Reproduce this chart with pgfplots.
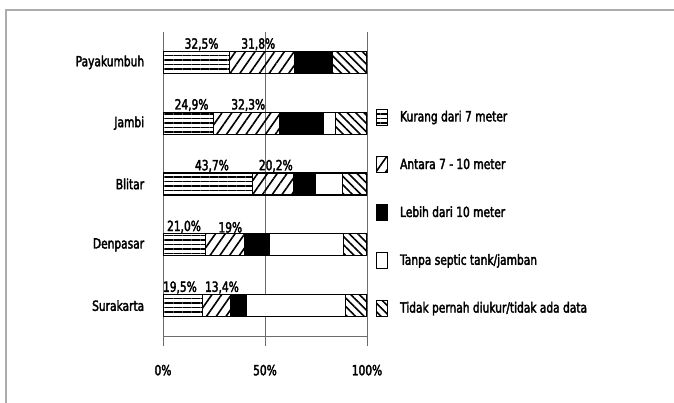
\documentclass[border=0pt]{standalone}
\usepackage{pgfplots}
\pgfplotsset{compat=1.18}
\usepackage{fontspec}
\setmainfont{DejaVu Sans}[FakeStretch=0.76, FakeBold=2.5]
\usetikzlibrary{patterns.meta}

\pgfplotsset{
  legbox/.style={legend image code/.code={
    \draw[##1,line width=0.8pt] (0pt,-8pt) rectangle (11pt,8pt);}},
}

\begin{document}
\fontsize{14}{16}\selectfont
\begin{tikzpicture}[font=\fontsize{14}{16}\selectfont]
\useasboundingbox (0pt,0pt) rectangle (674pt,402pt);
\draw[gray!65, line width=1.8pt] (6pt,-10pt) -- (6pt,392pt) -- (690pt,392pt);

\begin{axis}[
  at={(163pt,66pt)}, anchor=south west,
  scale only axis, width=204pt, height=304pt,
  xmin=0, xmax=100, ymin=0.5, ymax=5.5,
  xbar stacked, bar width=22pt,
  axis x line*=bottom, axis y line*=left,
  axis line style={gray!85!black, line width=0.9pt},
  xtick={0,50,100}, xticklabels={0\%,50\%,100\%},
  xmajorgrids, major grid style={gray!85!black, line width=0.9pt},
  x tick style={gray!85!black, line width=0.9pt},
  major tick length=10pt, tick align=outside,
  ytick={1,2,3,4,5},
  yticklabels={Surakarta,Denpasar,Blitar,Jambi,Payakumbuh},
  y tick style={draw=none},
  minor ytick={0.5,1.5,2.5,3.5,4.5,5.5},
  minor tick length=4pt,
  minor y tick style={gray!85!black, line width=0.9pt},
  yticklabel style={xshift=-4pt},
  xticklabel style={yshift=-14pt},
  /pgf/number format/assume math mode=true,
  every axis plot/.append style={draw=black, line width=1.1pt},
  legend style={at={(1.03,0.755)}, anchor=north west, draw=none, fill=none,
    row sep=31pt, /tikz/every odd column/.append style={column sep=10pt}},
  legend cell align=left,
]
\addplot[legbox, pattern={Lines[angle=0,distance=4.5pt,line width=1.2pt]}] coordinates
  {(19.5,1) (21.0,2) (43.7,3) (24.9,4) (32.5,5)};
\addplot[legbox, pattern={Lines[angle=55,distance=8pt,line width=1.6pt]}] coordinates
  {(13.4,1) (19.0,2) (20.2,3) (32.3,4) (31.8,5)};
\addplot[legbox, fill=black] coordinates
  {(8.1,1) (12.2,2) (11.0,3) (21.5,4) (18.9,5)};
\addplot[legbox, fill=white] coordinates
  {(48.4,1) (36.1,2) (12.9,3) (5.7,4) (0,5)};
\addplot[legbox, pattern={Lines[angle=-45,distance=6pt,line width=1.6pt]}] coordinates
  {(10.6,1) (11.7,2) (12.2,3) (15.6,4) (16.8,5)};
\legend{Kurang dari 7 meter, Antara 7 - 10 meter, Lebih dari 10 meter,
  Tanpa septic tank/jamban, Tidak pernah diukur/tidak ada data}
\end{axis}

\begin{axis}[
  at={(163pt,66pt)}, anchor=south west,
  scale only axis, width=204pt, height=304pt,
  xmin=0, xmax=100, ymin=0.5, ymax=5.5,
  hide axis, clip=false,
]
\addplot[draw=none, nodes near coords, point meta=explicit symbolic,
  nodes near coords style={anchor=south, inner sep=1pt, black}]
  table[meta=lab] {
x y lab
18.9 5.18 32,5\%
46.7 5.18 31,8\%
14.0 4.18 24,9\%
41.8 4.18 32,3\%
24.0 3.18 43,7\%
55.3 3.18 20,2\%
10.3 2.18 21,0\%
33.0 2.18 19\%
8.3 1.18 19,5\%
28.9 1.18 13,4\%
};
\end{axis}
\end{tikzpicture}
\end{document}
